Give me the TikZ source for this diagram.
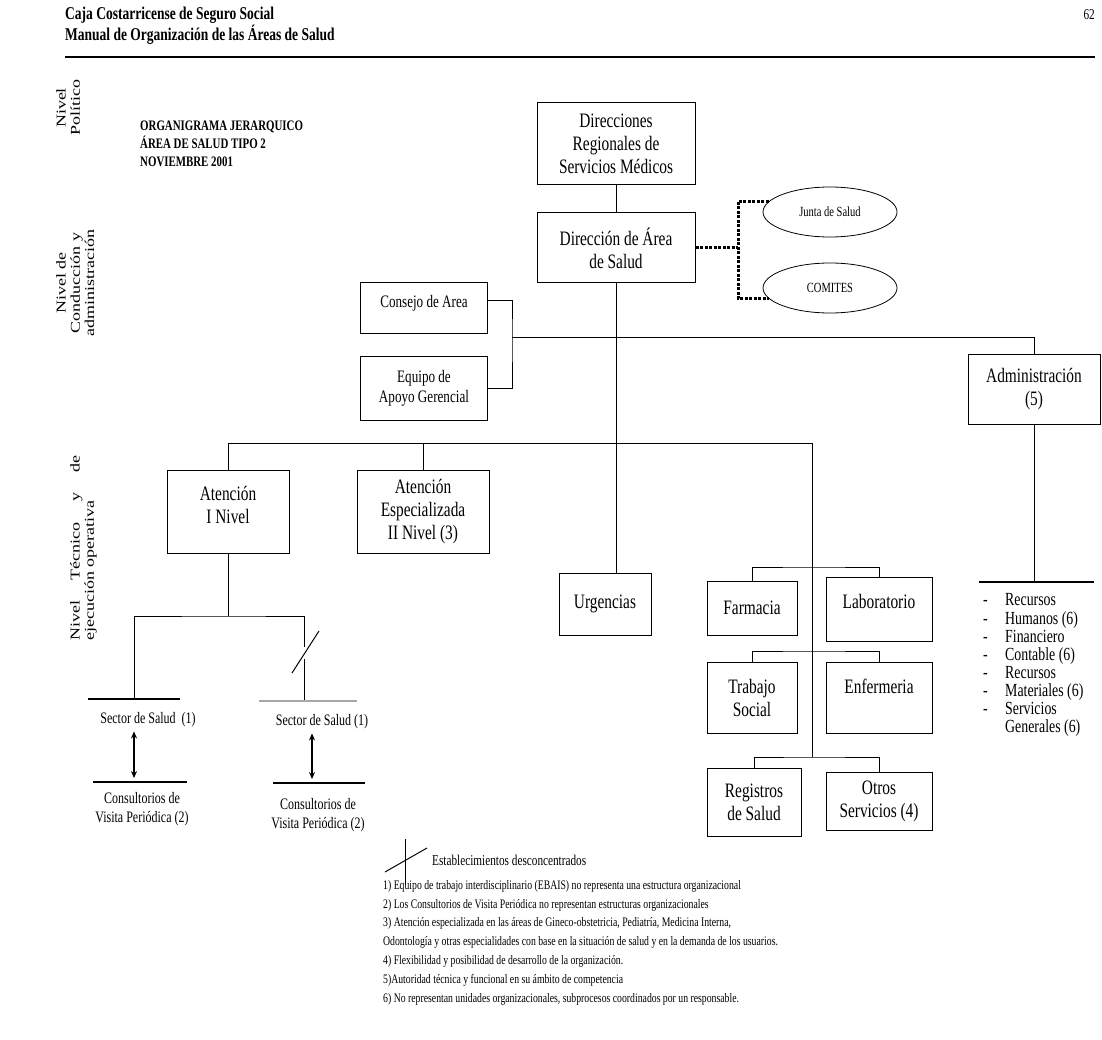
\documentclass[tikz,border=0pt]{standalone}
\usepackage{fontspec}
\setmainfont{Liberation Serif}[FakeStretch=0.75]
\newfontfamily\rectafont{Liberation Serif}
\usepackage{graphicx}
\usetikzlibrary{shapes.geometric, arrows.meta}

\begin{document}
\begin{tikzpicture}[x=1pt, y=-1pt,
    caja/.style={rectangle, draw, line width=1pt, align=center, inner sep=2pt, font=\fontsize{20.5}{23}\selectfont},
    cajita/.style={caja, font=\fontsize{17.5}{20}\selectfont},
    elipse/.style={ellipse, draw, line width=0.8pt, minimum width=134pt, minimum height=50pt, inner sep=0pt, font=\fontsize{14}{16}\selectfont},
    linea/.style={line width=1pt},
    punteado/.style={line width=3pt, dash pattern=on 3pt off 1.5pt},
    doble/.style={{Stealth[length=7pt,width=6pt]}-{Stealth[length=7pt,width=6pt]}, line width=1.2pt},
    regla/.style={fill=black, inner sep=0pt, minimum height=1.5pt},
    etiqueta/.style={align=center, inner sep=0pt, font=\fontsize{16}{19}\selectfont},
    nivel/.style={rotate=90, inner sep=0pt, font=\rectafont\fontsize{18}{19}\selectfont},
    encabezado/.style={anchor=west, inner sep=0pt, font=\bfseries\fontsize{18}{20}\selectfont}
]
    \fill[white] (0,0) rectangle (1102,1040);
    \useasboundingbox (0,0) rectangle (1102,1040);

    % encabezado de la pagina
    \node[encabezado] (caja) at (65,15) {Caja Costarricense de Seguro Social};
    \node[encabezado] (manual) at (65,35) {Manual de Organización de las Áreas de Salud};
    \node[anchor=east, inner sep=0pt, font=\fontsize{15}{18}\selectfont] (pagina) at (1095,15) {62};
    \draw[line width=2pt] (65,57) -- (1095,57);

    \node[anchor=north west, align=left, inner sep=0pt, font=\bfseries\fontsize{14.5}{18}\selectfont] (titulo) at (140,121)
        {ORGANIGRAMA JERARQUICO\\ÁREA DE SALUD TIPO 2\\NOVIEMBRE 2001};

    % niveles
    \node[nivel] (npol) at (70,108) {\scalebox{1}[0.75]{\begin{tabular}{@{}c@{}}Nivel\\Político\end{tabular}}};
    \node[nivel] (ncond) at (77,283) {\scalebox{1}[0.75]{\begin{tabular}{@{}c@{}}Nivel de\\Conducción y\\administración\end{tabular}}};
    \node[nivel] (ntec) at (84,548) {\scalebox{1}[0.75]{\begin{tabular}{@{}l@{}}\makebox[185pt][s]{Nivel Técnico y de}\\ejecución operativa\end{tabular}}};

    % cajas
    \node[caja, minimum width=158pt, minimum height=82pt] (dirreg) at (616,144) {Direcciones\\Regionales de\\Servicios Médicos};
    \node[caja, minimum width=158pt, minimum height=70pt] (dirarea) at (616,248) {Dirección de Área\\de Salud};
    \node[elipse] (junta) at (830,212) {Junta de Salud};
    \node[elipse] (comites) at (830,288) {COMITES};
    \node[cajita, minimum width=127pt, minimum height=50pt] (consejo) at (424,308) {Consejo de Area\\[-6pt]~};
    \node[cajita, minimum width=127pt, minimum height=64pt] (equipo) at (424,388) {Equipo de\\Apoyo Gerencial};
    \node[caja, minimum width=132pt, minimum height=70pt] (admin) at (1034,389) {Administración\\(5)};
    \node[caja, minimum width=122pt, minimum height=83pt] (aten1) at (228,512) {Atención\\I Nivel\\[-8pt]~};
    \node[caja, minimum width=132pt, minimum height=83pt] (atenesp) at (423,512) {Atención\\Especializada\\II Nivel (3)};
    \node[caja, minimum width=92pt, minimum height=62pt] (urg) at (605,604) {Urgencias};
    \node[caja, minimum width=90pt, minimum height=54pt] (farm) at (752,608) {Farmacia};
    \node[caja, minimum width=106pt, minimum height=64pt] (lab) at (879,609) {Laboratorio\\[-8pt]~};
    \node[caja, minimum width=90pt, minimum height=71pt] (trab) at (752,698) {Trabajo\\Social};
    \node[caja, minimum width=106pt, minimum height=71pt] (enf) at (879,698) {Enfermeria\\~};
    \node[caja, minimum width=94pt, minimum height=68pt] (reg) at (754,802) {Registros\\de Salud};
    \node[caja, minimum width=106pt, minimum height=58pt] (otros) at (879,801) {Otros\\Servicios (4)};

    % sectores
    \node[regla, minimum width=92pt] (r1) at (134,699) {};
    \node[regla, minimum width=98pt, fill=gray!70] (r3) at (308,701) {};
    \node[regla, minimum width=94pt] (r2) at (140,782) {};
    \node[regla, minimum width=92pt] (r4) at (319,783) {};
    \node[etiqueta] (sec1) at (148,720) {Sector de Salud\ \ (1)};
    \node[etiqueta] (sec2) at (322,722) {Sector de Salud (1)};
    \node[etiqueta] (cons1) at (142,809) {Consultorios de\\Visita Periódica (2)};
    \node[etiqueta] (cons2) at (318,815) {Consultorios de\\Visita Periódica (2)};

    % administracion
    \node[regla, minimum width=115pt] (r5) at (1036,582) {};
    \node[anchor=north west, inner sep=0pt, font=\fontsize{18.5}{18}\selectfont] (lista) at (979,593)
        {\begin{tabular}{@{\hspace{4pt}}p{22pt}@{}l@{}}
        - & Recursos\\
        - & Humanos (6)\\
        - & Financiero\\
        - & Contable (6)\\
        - & Recursos\\
        - & Materiales (6)\\
        - & Servicios\\
          & Generales (6)
        \end{tabular}};

    % conectores
    \coordinate (dnodo) at (738,248);
    \coordinate (cnodo) at (512,337);
    \coordinate (fnodo) at (812,443);
    \coordinate (f1) at (812,567);
    \coordinate (f2) at (812,651);
    \coordinate (fbase) at (812,757);
    \coordinate (snodo) at (228,616);
    \coordinate (corte1) at (304,647);
    \coordinate (corte2) at (304,659);

    \draw[linea] (dirreg) -- (dirarea);
    \draw[punteado] (dirarea.east) -- (dnodo);
    \draw[punteado] (junta.170) -| (dnodo) |- (comites.190);
    \draw[linea] ([yshift=7pt]consejo.east) -| (cnodo) |- (equipo.east);
    \draw[linea] (cnodo) -| (admin.north);
    \draw[linea] (dirarea.south) -- (dirarea.south |- urg.north);
    \draw[linea] (aten1.north) |- (fnodo);
    \draw[linea] (atenesp.north) -- (atenesp.north |- fnodo);
    \draw[linea] (fnodo) -- (fbase);
    \draw[linea] (farm.north) |- (f1) -| (lab.north);
    \draw[linea] (trab.north) |- (f2) -| (enf.north);
    \draw[linea] (reg.north) |- (fbase) -| (otros.north);
    \draw[linea] (admin.south) -- (admin.south |- r5.north);

    \draw[linea] (aten1.south) -- (snodo);
    \draw[linea] (r1.north) |- (snodo) -| (corte1);
    \draw[linea] (corte2) -- (corte2 |- r3.north);
    \draw[linea] ([shift={(-12,14)}]corte2) -- ([shift={(15,-16)}]corte1);
    \draw[doble] ([yshift=-4pt]sec1.south -| r1) -- ([yshift=3pt]r2.north -| r1);
    \draw[doble] ([xshift=-10pt,yshift=-4pt]sec2.south) -- ([xshift=-7pt,yshift=3pt]r4.north);

    % leyenda y notas
    \coordinate (ley) at (405,839);
    \draw[linea] (ley) -- ++(0,46);
    \draw[linea] ([shift={(-20,33)}]ley) -- ([shift={(22,9)}]ley);
    \node[anchor=west, inner sep=0pt, font=\fontsize{15}{17}\selectfont] (leyenda) at (432,860) {Establecimientos desconcentrados};
    \node[anchor=north west, align=left, inner sep=0pt, font=\fontsize{13}{18.8}\selectfont] (notas) at (383,880)
        {1) Equipo de trabajo interdisciplinario (EBAIS) no representa una estructura organizacional\\
         2) Los Consultorios de Visita Periódica no representan estructuras organizacionales\\
         3) Atención especializada en las áreas de Gineco-obstetricia, Pediatría, Medicina Interna,\\
         Odontología y otras especialidades con base en la situación de salud y en la demanda de los usuarios.\\
         4) Flexibilidad y posibilidad de desarrollo de la organización.\\
         5)Autoridad técnica y funcional en su ámbito de competencia\\
         6) No representan unidades organizacionales, subprocesos coordinados por un responsable.};
\end{tikzpicture}
\end{document}
